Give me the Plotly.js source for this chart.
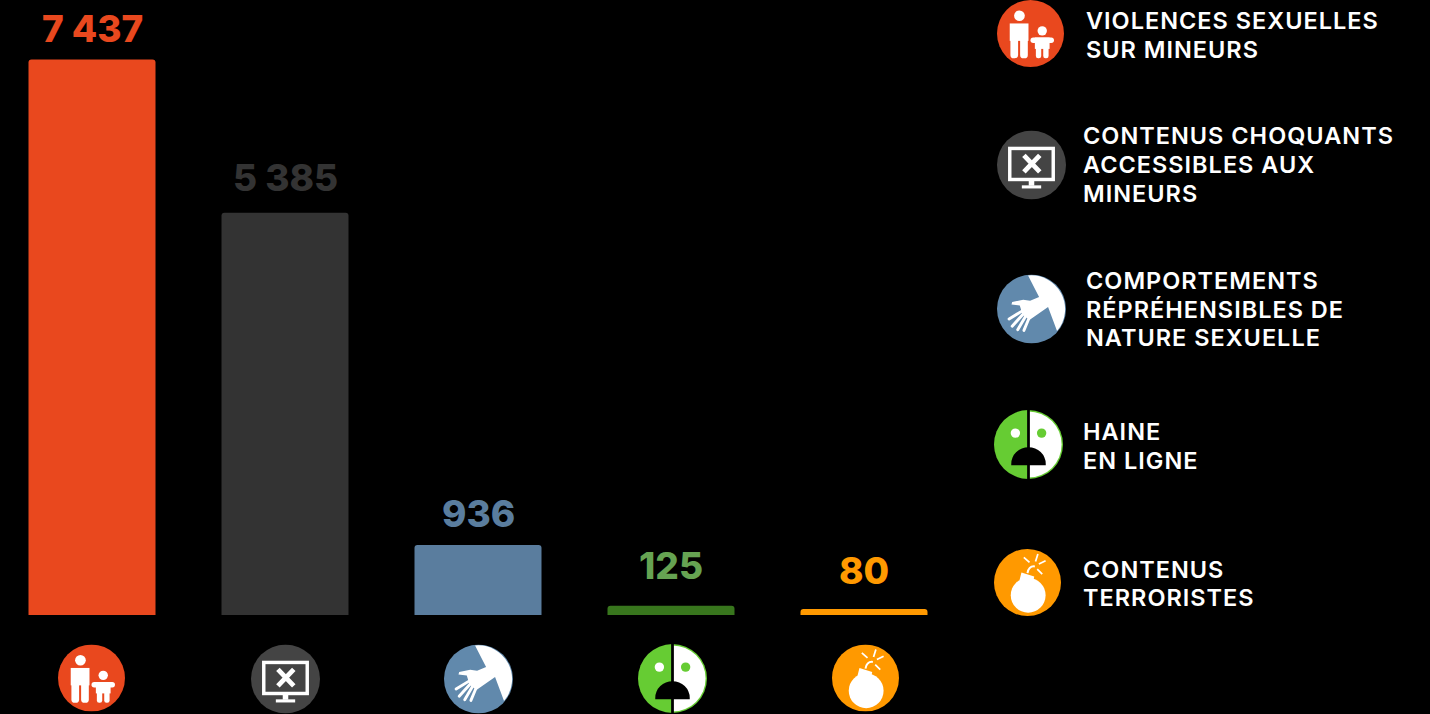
<!DOCTYPE html>
<html lang="fr">
<head>
<meta charset="utf-8">
<title>Signalements par catégorie</title>
<script src="https://cdn.plot.ly/plotly-3.0.1.min.js"></script>
<style>
  html, body { margin: 0; padding: 0; background: #000; overflow: hidden; }
  #chart { width: 1430px; height: 714px; }
  /* the key lines are tracked out a little; the five value labels are not */
  g.annotation text { letter-spacing: 1px; }
  g.annotation[data-index="0"] text, g.annotation[data-index="1"] text,
  g.annotation[data-index="2"] text, g.annotation[data-index="3"] text,
  g.annotation[data-index="4"] text { letter-spacing: 0; }
</style>
</head>
<body>
<div id="chart"></div>
<script>
// Reports per category
const categories = ["Violences sexuelles sur mineurs", "Contenus choquants accessibles aux mineurs",
  "Comportements répréhensibles de nature sexuelle", "Haine en ligne", "Contenus terroristes"];
const values = [7437, 5385, 936, 125, 80];
const valueLabels = ["7 437", "5 385", "936", "125", "80"];
const barColors = ["#e9481e", "#333333", "#5a7d9e", "#38761d", "#ff9900"];
const labelColors = ["#e9481e", "#333333", "#5a7d9e", "#66a352", "#ff9900"];

// Key text, one list of lines per category
const keyLines = [
  ["VIOLENCES SEXUELLES", "SUR MINEURS"],
  ["CONTENUS CHOQUANTS", "ACCESSIBLES AUX", "MINEURS"],
  ["COMPORTEMENTS", "RÉPRÉHENSIBLES DE", "NATURE SEXUELLE"],
  ["HAINE", "EN LIGNE"],
  ["CONTENUS", "TERRORISTES"]
];
const keyLineTops = [
  [20.4, 50],
  [135.4, 164.4, 194],
  [281, 309.4, 337.6],
  [432, 460.4],
  [569.4, 597.4]
];
const keyLefts = [1084.5, 1081.5, 1084.5, 1081.5, 1081.5];

// Layout geometry, in page pixels
const W = 1430, H = 714;
const firstCentre = 92, step = 193, barPx = 127;
const baseline = 615, pxPerUnit = 0.0747;
const labelGaps = [34, 39, 35, 44, 42];
const rowIcons = [[91.5, 678, 67], [285.5, 679, 69], [478.5, 679, 69], [672.5, 678.5, 69], [865.5, 678, 67]];
const keyIcons = [[1030.5, 33.5, 67], [1031.5, 165, 69], [1031.5, 309, 69], [1028.5, 444.5, 69], [1027.5, 582.5, 67]];

// Pictograms in a 100x100 box
const W_ = "#ffffff";
const iconBodies = [
  // adult and child
  `<circle cx="50" cy="50" r="50" fill="#e9481e"/>
   <g fill="${W_}" stroke="none">
     <circle cx="33.5" cy="23.5" r="8"/>
     <rect x="19" y="35" width="28" height="26"/>
     <rect x="20" y="55" width="11.5" height="32" rx="5"/>
     <rect x="34.5" y="55" width="11.5" height="32" rx="5"/>
     <circle cx="67.5" cy="46" r="7"/>
     <rect x="50" y="56" width="35" height="8" rx="4"/>
     <rect x="56.5" y="56" width="22" height="17"/>
     <rect x="58" y="66" width="8" height="21" rx="3.5"/>
     <rect x="69" y="66" width="8" height="21" rx="3.5"/>
   </g>`,
  // screen with a cross
  `<circle cx="50" cy="50" r="50" fill="#444444"/>
   <rect x="18.5" y="26" width="63" height="45" fill="none" stroke="${W_}" stroke-width="5"/>
   <path d="M39 36 L62 60 M62 36 L39 60" stroke="${W_}" stroke-width="7" fill="none"/>
   <rect x="46" y="73" width="8" height="7" fill="${W_}"/>
   <rect x="36" y="79.5" width="28" height="4.5" fill="${W_}"/>`,
  // hand reaching out
  `<circle cx="50" cy="50" r="50" fill="#6189ac"/>
   <path d="M45 1.5 A49 49 0 0 1 87 82 L74 47 L47 66 L37 58 L33 45 L21 43.5 L22 40 L38 36.5 L48 38 L61 32.7 Z" fill="${W_}"/>
   <g stroke="${W_}" stroke-width="4.2" stroke-linecap="round" fill="none">
     <path d="M38 52 L17.5 64.5"/>
     <path d="M40 55 L22 75"/>
     <path d="M43 58 L30 80"/>
     <path d="M47 62 L39 81"/>
   </g>`,
  // two-tone mask
  `<circle cx="50" cy="50" r="50" fill="#66cc33"/>
   <path d="M50 2 A48 48 0 0 1 50 98 Z" fill="${W_}"/>
   <rect x="48" y="0" width="4" height="100" fill="#000"/>
   <circle cx="31" cy="33.5" r="6.8" fill="${W_}"/>
   <circle cx="69" cy="33.5" r="6.8" fill="#66cc33"/>
   <path d="M25 78 A25 24 0 0 1 75 78 L 75 80 L25 80 Z" fill="#000"/>`,
  // bomb with sparks
  `<circle cx="50" cy="50" r="50" fill="#ff9900"/>
   <circle cx="51" cy="69" r="26" fill="${W_}"/>
   <path d="M41 35 L60 41 L58 52 L38 47 Z" fill="${W_}"/>
   <path d="M50 36 Q52 25 61 26" stroke="${W_}" stroke-width="3" fill="none"/>
   <path d="M44.5 12.5 L53 20 M65.5 7.5 L62 18.5 M77 17.5 L67 22.5 M72 37.5 L64.5 30" stroke="${W_}" stroke-width="2.6" fill="none"/>`
];
const iconSource = body =>
  "data:image/svg+xml," + encodeURIComponent(
    `<svg xmlns="http://www.w3.org/2000/svg" viewBox="0 0 100 100" width="200" height="200">${body}</svg>`);

const toPaperX = px => px / W;
const toPaperY = py => 1 - py / H;
const iconImage = (body, [cx, cy, d]) => ({
  source: iconSource(body),
  xref: "paper", yref: "paper",
  x: toPaperX(cx), y: toPaperY(cy),
  sizex: d / W, sizey: d / H,
  xanchor: "center", yanchor: "middle",
  sizing: "contain", layer: "above"
});

const FONT = "Inter, 'Open Sans', sans-serif";

const xIndex = categories.map((_, i) => i);

const valueAnnotations = values.map((v, i) => ({
  x: i, y: v, xref: "x", yref: "y",
  text: valueLabels[i], showarrow: false,
  xanchor: "center", yanchor: "bottom", yshift: labelGaps[i] - 27,
  borderpad: 0,
  font: { family: FONT, size: 37, weight: 800, color: labelColors[i] }
}));

const keyAnnotations = keyLines.flatMap((lines, k) => lines.map((line, j) => ({
  x: toPaperX(keyLefts[k]), y: toPaperY(keyLineTops[k][j]),
  xref: "paper", yref: "paper",
  text: line, showarrow: false,
  xanchor: "left", yanchor: "middle", align: "left",
  borderpad: 0,
  font: { family: FONT, size: 23.5, weight: 600, color: "#ffffff" }
})));

Plotly.newPlot("chart", [{
  type: "bar",
  x: xIndex,
  y: values,
  width: barPx / step,
  customdata: categories,
  marker: { color: barColors, line: { width: 0 } },
  hoverinfo: "skip"
}], {
  width: W, height: H,
  margin: { l: 0, r: 0, t: 0, b: 0, pad: 0 },
  paper_bgcolor: "#000000",
  plot_bgcolor: "#000000",
  showlegend: false,
  barcornerradius: 3,
  xaxis: { range: [-firstCentre / step, (W - firstCentre) / step], visible: false, fixedrange: true },
  yaxis: { range: [-(H - baseline) / pxPerUnit, baseline / pxPerUnit], visible: false, fixedrange: true },
  images: [...rowIcons.map((g, i) => iconImage(iconBodies[i], g)),
           ...keyIcons.map((g, i) => iconImage(iconBodies[i], g))],
  annotations: [...valueAnnotations, ...keyAnnotations]
}, { displayModeBar: false, responsive: false });
</script>
</body>
</html>
